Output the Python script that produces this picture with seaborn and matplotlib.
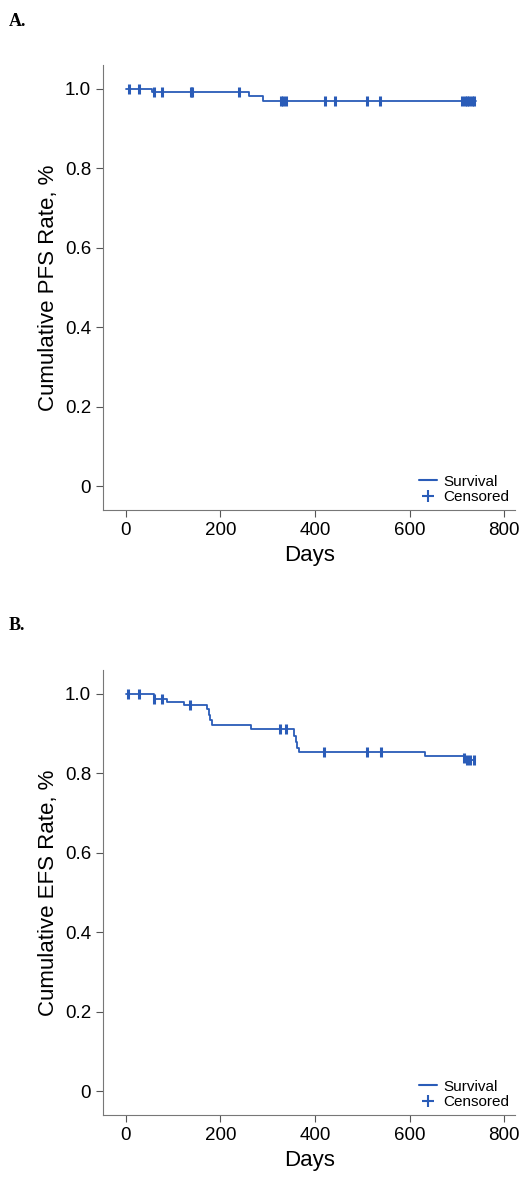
import matplotlib
matplotlib.use("Agg")
import matplotlib.pyplot as plt
import seaborn as sns
import pandas as pd
from matplotlib.lines import Line2D

# panel A: PFS step curve and censor marks
pfs_days = [0, 55, 260, 290, 740]
pfs_rate = [1.0, 0.993, 0.983, 0.97, 0.97]
pfs_cens_days = [6, 28, 59, 76, 137, 140, 239, 328, 333, 338, 421, 442, 510, 537, 711, 716, 721, 726, 731, 736]

# panel B: EFS step curve and censor marks
efs_days = [0, 59, 87, 124, 171, 175, 178, 182, 264, 356, 359, 362, 366, 633, 715, 720, 727, 735]
efs_rate = [1.0, 0.988, 0.98, 0.972, 0.962, 0.948, 0.934, 0.922, 0.912, 0.895, 0.878, 0.865, 0.855, 0.843, 0.838, 0.835, 0.833, 0.833]
efs_cens_days = [5, 28, 60, 76, 135, 325, 338, 418, 510, 540, 715, 722, 728, 735]

sns.set_style("white")
plt.rcParams['font.family'] = ['Liberation Sans', 'DejaVu Sans']
plt.rcParams['text.color'] = 'black'
plt.rcParams['axes.labelcolor'] = 'black'
plt.rcParams['xtick.color'] = 'black'
plt.rcParams['ytick.color'] = 'black'
blue = "#2a5cb8"

fig = plt.figure(figsize=(5.23, 11.84), dpi=100)
axA = fig.add_axes([0.197, 0.569, 0.788, 0.376])
axB = fig.add_axes([0.197, 0.058, 0.788, 0.376])


def surv_at(days, rate, t):
    r = rate[0]
    for d, v in zip(days, rate):
        if d <= t:
            r = v
    return r


def draw(ax, days, rate, cens, ylabel):
    df = pd.DataFrame({"day": days, "rate": rate})
    sns.lineplot(data=df, x="day", y="rate", drawstyle="steps-post", color=blue, lw=1.3, ax=ax)
    cdf = pd.DataFrame({"day": cens, "rate": [surv_at(days, rate, t) for t in cens]})
    sns.scatterplot(data=cdf, x="day", y="rate", marker="|", s=60, linewidth=2.2, color=blue, ax=ax)
    ax.set_xlim(-48, 823)
    ax.set_ylim(-0.06, 1.06)
    ax.set_xticks([0, 200, 400, 600, 800])
    ax.set_yticks([0, 0.2, 0.4, 0.6, 0.8, 1.0])
    ax.set_yticklabels(["0", "0.2", "0.4", "0.6", "0.8", "1.0"])
    ax.tick_params(labelsize=13.5, length=5, color="#555555", left=True, bottom=True)
    for s in ["top", "right"]:
        ax.spines[s].set_visible(False)
    for s in ["left", "bottom"]:
        ax.spines[s].set_color("#777777")
    ax.set_xlabel("Days", fontsize=16)
    ax.set_ylabel(ylabel, fontsize=16)
    handles = [Line2D([], [], color=blue, lw=1.5, drawstyle="steps-mid"),
               Line2D([], [], color=blue, marker="+", ls="none", ms=9, mew=1.5)]
    ax.legend(handles, ["Survival", "Censored"], loc="lower right", frameon=False,
              fontsize=11, handlelength=1.2, handletextpad=0.4, labelspacing=0.1,
              borderaxespad=0.0)


draw(axA, pfs_days, pfs_rate, pfs_cens_days, "Cumulative PFS Rate, %")
draw(axB, efs_days, efs_rate, efs_cens_days, "Cumulative EFS Rate, %")

fig.text(0.017, 0.978, "A.", fontsize=13, fontweight="bold", family="Liberation Serif")
fig.text(0.017, 0.468, "B.", fontsize=13, fontweight="bold", family="Liberation Serif")

fig.savefig("out.png", dpi=100)
